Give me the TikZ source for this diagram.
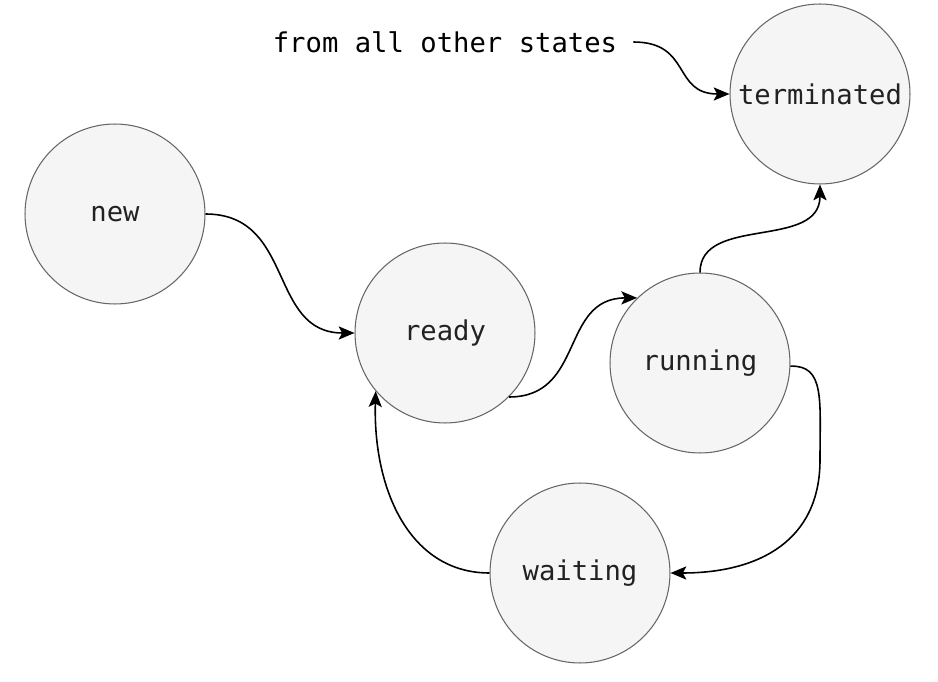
\documentclass[tikz,border=0pt]{standalone}
\usepackage{fontspec}
\setmonofont{DejaVu Sans Mono}
\usetikzlibrary{arrows.meta}
\definecolor{statefill}{HTML}{F5F5F5}
\definecolor{stateline}{HTML}{666666}
\definecolor{labeltext}{HTML}{222222}
\tikzset{>={Stealth[length=9pt,width=7.5pt,inset=2pt]}}
\tikzstyle{state} = [circle, draw=stateline, fill=statefill, line width=0.6pt, minimum size=3.6cm, inner sep=0, font=\ttfamily\fontsize{15.5}{18}\selectfont, text=labeltext]
\tikzstyle{trans} = [->, line width=0.9pt, draw=black]

\begin{document}
\begin{tikzpicture}[x=0.02cm, y=-0.02cm]
\useasboundingbox (0,0) rectangle (938,682);
% states
\node [state] (new) at (115, 214) {new};
\node [state] (ready) at (445, 333) {ready};
\node [state] (running) at (700, 363) {running};
\node [state] (waiting) at (580, 573) {waiting};
\node [state] (term) at (820, 94) {terminated};
\node [draw = none, inner xsep = 9pt, font=\ttfamily\fontsize{15.5}{18}\selectfont] (from) at (445, 42) {from all other states};
% transitions
\draw [trans] (new.east) .. controls (295, 214) and (268, 333) .. (ready.west);
\draw [trans] (ready.-45) .. controls (585, 397) and (560, 298) .. (running.134);
\draw [trans] (running.north) .. controls (700, 215) and (820, 250) .. (term.south);
\draw [trans] (running.-2) .. controls (825, 365) and (820, 400) .. (820, 460) .. controls (820, 540) and (760, 573) .. (waiting.east);
\draw [trans] (waiting.west) .. controls (410, 573) and (373, 490) .. (ready.220);
\draw [trans] (from.east) .. controls (692, 42) and (672, 94) .. (term.west);
\end{tikzpicture}
\end{document}
